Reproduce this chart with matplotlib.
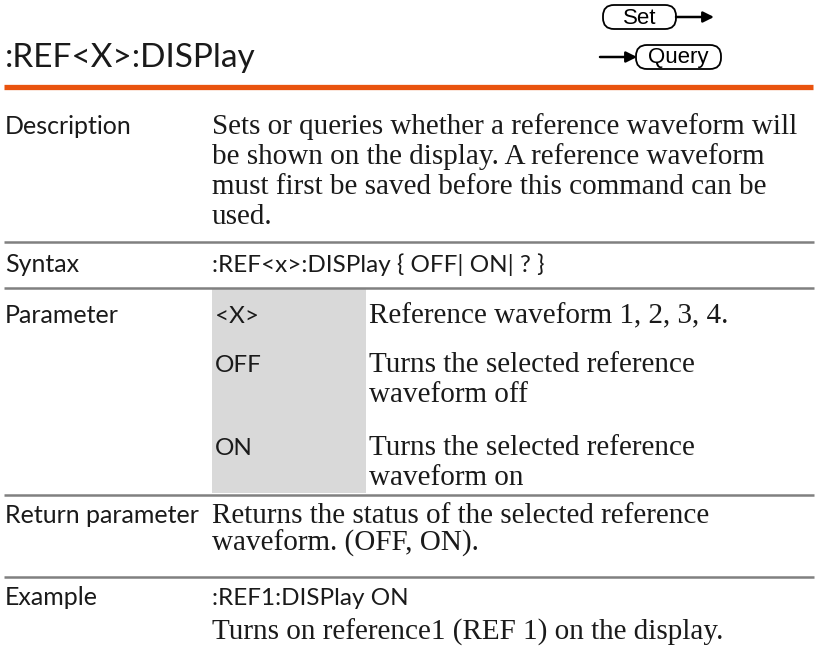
import matplotlib
matplotlib.use("Agg")
import matplotlib.pyplot as plt
from matplotlib.patches import FancyBboxPatch, Rectangle

# page content
title = ":REF<X>:DISPlay"
row_labels = ["Description", "Syntax", "Parameter", "Return parameter", "Example"]
description = ["Sets or queries whether a reference waveform will",
               "be shown on the display. A reference waveform",
               "must first be saved before this command can be",
               "used."]
syntax = ":REF<x>:DISPlay { OFF| ON| ? }"
param_names = ["<X>", "OFF", "ON"]
param_desc = [["Reference waveform 1, 2, 3, 4."],
              ["Turns the selected reference", "waveform off"],
              ["Turns the selected reference", "waveform on"]]
return_text = ["Returns the status of the selected reference",
               "waveform. (OFF, ON)."]
example_cmd = ":REF1:DISPlay ON"
example_text = "Turns on reference1 (REF 1) on the display."

SANS = "Lato"
SERIF = "Liberation Serif"
INK = "#1a1a1a"
ORANGE = "#E9530E"
RULE = "#808080"
SHADE = "#D9D9D9"

fig = plt.figure(figsize=(8.2, 6.62), dpi=100)
ax = fig.add_axes([0, 0, 1, 1])
ax.set_xlim(0, 820)
ax.set_ylim(662, 0)
ax.axis("off")

x_label, x_body, x_pdesc = 5, 212, 369
lh = 30  # line height

# header
ax.text(x_label, 67, title, family=SANS, fontsize=24, color=INK, va="baseline")
ax.plot([4, 813], [86.5, 86.5], color=ORANGE, lw=3.8, solid_capstyle="butt")

# Set / Query symbols
for (bx, by, bw, bh, txt) in [(603, 5, 73, 24, "Set"), (636, 45, 85, 24, "Query")]:
    ax.add_patch(FancyBboxPatch((bx, by), bw, bh,
                                boxstyle="round,pad=0,rounding_size=11",
                                fc="white", ec="black", lw=1.3))
    ax.text(bx + bw / 2, by + bh / 2 + 1, txt, family="Liberation Sans",
            fontsize=16, ha="center", va="center", color="black")
ax.annotate("", xy=(714, 17), xytext=(676, 17),
            arrowprops=dict(arrowstyle="-|>", color="black", lw=1.8,
                            mutation_scale=16, shrinkA=0, shrinkB=0))
ax.annotate("", xy=(637, 57), xytext=(600, 57),
            arrowprops=dict(arrowstyle="-|>", color="black", lw=1.8,
                            mutation_scale=16, shrinkA=0, shrinkB=0))

def label(y, s):
    ax.text(x_label, y, s, family=SANS, fontsize=18, color=INK, va="baseline")

def body(x, y, s, serif=True):
    ax.text(x, y, s, family=SERIF if serif else SANS,
            fontsize=21 if serif else 17.5, color=INK, va="baseline")

def rule(y):
    ax.plot([4, 814], [y, y], color=RULE, lw=1.8, solid_capstyle="butt")

# Description
y0 = 134
label(y0, row_labels[0])
for i, line in enumerate(description):
    body(x_body, y0 + i * lh, line)
rule(242)

# Syntax
label(272, row_labels[1])
body(x_body, 272, syntax, serif=False)
rule(288)

# Parameter
ax.add_patch(Rectangle((212, 289), 154, 204, fc=SHADE, ec="none"))
label(323, row_labels[2])
p_y = [323, 372, 455]
for name, lines, y in zip(param_names, param_desc, p_y):
    body(x_body + 3, y, name, serif=False)
    for j, line in enumerate(lines):
        body(x_pdesc, y + j * lh, line)
rule(495)

# Return parameter
label(523, row_labels[3])
for i, line in enumerate(return_text):
    body(x_body, 523 + i * 28, line)
rule(577)

# Example
label(605, row_labels[4])
body(x_body, 605, example_cmd, serif=False)
body(x_body, 640, example_text)

fig.savefig("out.png", dpi=100, facecolor="white")
